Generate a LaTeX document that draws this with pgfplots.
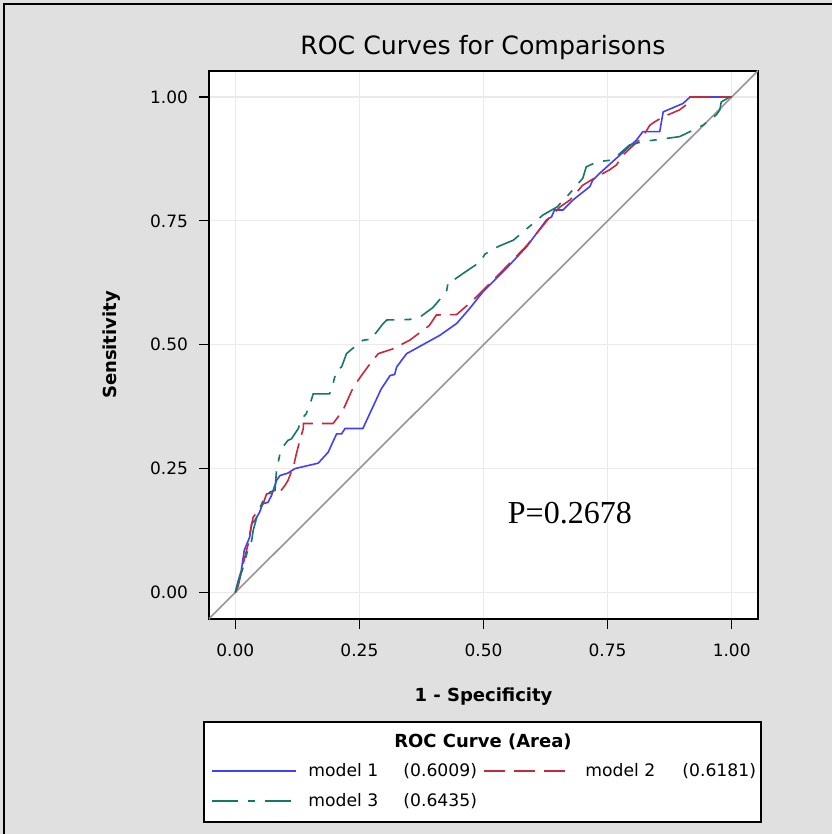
\documentclass[border=0pt]{standalone}
\usepackage{fontspec}
\setmainfont{DejaVu Sans}
\newfontfamily\timesfont{Liberation Serif}
\usepackage{pgfplots}
\pgfplotsset{compat=1.18}
\definecolor{bgc}{RGB}{224,224,224}
\definecolor{mone}{RGB}{64,64,255}
\definecolor{mtwo}{RGB}{200,40,60}
\definecolor{mthree}{RGB}{20,120,105}
\definecolor{gridc}{RGB}{234,234,234}
\definecolor{diagc}{RGB}{150,150,150}
\begin{document}
\begin{tikzpicture}
\fill[bgc] (-104.5pt,-107.5pt) rectangle (311.5pt,309.5pt);
\draw[black, line width=1pt] (-102.5pt,-107.5pt) -- (-102.5pt,307.5pt) -- (311.5pt,307.5pt);
\draw[black, fill=white, line width=0.9pt] (-2.5pt,-51.5pt) rectangle (276pt,-101.5pt);
\node[font=\bfseries\fontsize{9}{11}\selectfont] at (137pt,-61.5pt) {ROC Curve (Area)};
\begin{axis}[
  at={(0pt,0pt)}, anchor=south west,
  scale only axis, width=274.5pt, height=274pt,
  xmin=-0.053, xmax=1.053, ymin=-0.0535, ymax=1.0525,
  xtick={0,0.25,0.5,0.75,1}, ytick={0,0.25,0.5,0.75,1},
  xticklabels={0.00,0.25,0.50,0.75,1.00},
  yticklabels={0.00,0.25,0.50,0.75,1.00},
  tick align=outside, xtick pos=bottom, ytick pos=left,
  major tick length=5pt,
  tick style={black, line width=0.6pt},
  grid=major, major grid style={gridc, line width=0.6pt},
  axis line style={black, line width=0.8pt},
  axis background/.style={fill=white},
  tick label style={font=\fontsize{8.5}{10}\selectfont},
  xticklabel style={yshift=-4pt},
  yticklabel style={xshift=-2pt},
  title={ROC Curves for Comparisons},
  title style={at={(axis description cs:0.499,1.02)}, anchor=center, font=\fontsize{12.6}{15}\selectfont},
  xlabel={1 - Specificity},
  xlabel style={at={(axis description cs:0.5,-0.1423)}, anchor=center, font=\bfseries\fontsize{9}{11}\selectfont},
  ylabel={Sensitivity},
  ylabel style={at={(axis description cs:-0.1767,0.5)}, anchor=center, font=\bfseries\fontsize{9}{11}\selectfont},
  legend columns=2,
  legend cell align=left,
  legend image code/.code={\draw[#1, line width=1pt] (0pt,0pt) -- (42pt,0pt);},
  legend style={at={(-0.0073,-0.2554)}, anchor=north west, draw=none, fill=none,
    row sep=7pt, nodes={inner sep=0pt, font=\fontsize{8.6}{11}\selectfont}},
]
\addplot[diagc, line width=0.8pt, forget plot] coordinates {(-0.06,-0.06) (1.06,1.06)};
\addplot[mone, line width=0.8pt] coordinates {
(0,0) (0.006,0.024) (0.012,0.044) (0.018,0.085) (0.029,0.112) (0.033,0.139)
(0.039,0.145) (0.049,0.162) (0.055,0.179) (0.066,0.182) (0.073,0.196) (0.083,0.226)
(0.090,0.236) (0.106,0.241) (0.120,0.250) (0.167,0.261) (0.187,0.283) (0.204,0.320)
(0.214,0.320) (0.221,0.331) (0.257,0.331) (0.294,0.411) (0.312,0.438) (0.321,0.440)
(0.325,0.455) (0.345,0.482) (0.412,0.519) (0.446,0.543) (0.472,0.573) (0.499,0.607)
(0.546,0.654) (0.587,0.698) (0.627,0.752) (0.637,0.758) (0.643,0.772) (0.660,0.772)
(0.680,0.792) (0.714,0.819) (0.720,0.832) (0.734,0.846) (0.775,0.883) (0.808,0.913)
(0.821,0.930) (0.855,0.930) (0.862,0.970) (0.902,0.987) (0.916,1.000) (1,1)};
\addlegendentry{\hspace*{5.5pt}\makebox[47.5pt][l]{model 1}\makebox[40pt][l]{(0.6009)}}
\addplot[mtwo, line width=0.8pt, dash pattern=on 10.5pt off 4.5pt] coordinates {
(0,0) (0.006,0.014) (0.019,0.071) (0.026,0.098) (0.029,0.118) (0.036,0.152)
(0.049,0.169) (0.056,0.179) (0.063,0.199) (0.090,0.203) (0.100,0.216) (0.106,0.226)
(0.110,0.236) (0.117,0.253) (0.123,0.280) (0.130,0.307) (0.137,0.331) (0.137,0.341)
(0.197,0.341) (0.217,0.368) (0.238,0.415) (0.257,0.442) (0.274,0.465) (0.288,0.482)
(0.318,0.492) (0.351,0.509) (0.391,0.539) (0.405,0.560) (0.446,0.561) (0.479,0.590)
(0.506,0.617) (0.533,0.644) (0.587,0.700) (0.634,0.758) (0.654,0.778) (0.674,0.792)
(0.700,0.822) (0.728,0.839) (0.754,0.853) (0.768,0.863) (0.781,0.883) (0.821,0.920)
(0.835,0.943) (0.845,0.950) (0.862,0.960) (0.895,0.974) (0.912,0.987) (0.916,1.000) (1,1)};
\addlegendentry{\hspace*{8pt}\makebox[48.5pt][l]{model 2}(0.6181)}
\addplot[mthree, line width=0.8pt, dash pattern=on 13pt off 5pt on 3.5pt off 5pt] coordinates {
(0,0) (0.009,0.031) (0.016,0.051) (0.023,0.078) (0.033,0.105) (0.036,0.125)
(0.046,0.162) (0.059,0.193) (0.070,0.203) (0.080,0.206) (0.083,0.246) (0.090,0.280)
(0.096,0.294) (0.106,0.307) (0.113,0.310) (0.127,0.331) (0.130,0.341) (0.137,0.354)
(0.143,0.361) (0.153,0.388) (0.157,0.401) (0.190,0.401) (0.197,0.422) (0.204,0.449)
(0.214,0.455) (0.224,0.482) (0.244,0.499) (0.257,0.509) (0.278,0.512) (0.281,0.521)
(0.298,0.543) (0.305,0.550) (0.351,0.551) (0.372,0.556) (0.398,0.575) (0.415,0.595)
(0.426,0.610) (0.429,0.628) (0.439,0.630) (0.459,0.644) (0.493,0.667) (0.503,0.683)
(0.529,0.698) (0.560,0.711) (0.580,0.728) (0.620,0.762) (0.648,0.778) (0.668,0.799)
(0.700,0.836) (0.707,0.859) (0.728,0.869) (0.760,0.873) (0.794,0.903) (0.821,0.910)
(0.895,0.920) (0.922,0.933) (0.942,0.943) (0.969,0.964) (0.976,0.974) (0.979,0.990)
(0.996,1.000) (1,1)};
\addlegendentry{\hspace*{5.5pt}\makebox[47.5pt][l]{model 3}(0.6435)}
\node[font=\timesfont\fontsize{16}{18}\selectfont] at (axis cs:0.674,0.16) {P=0.2678};
\end{axis}
\pgfresetboundingbox
\useasboundingbox (-104.5pt,-107.5pt) rectangle (311.5pt,309.5pt);
\end{tikzpicture}
\end{document}
